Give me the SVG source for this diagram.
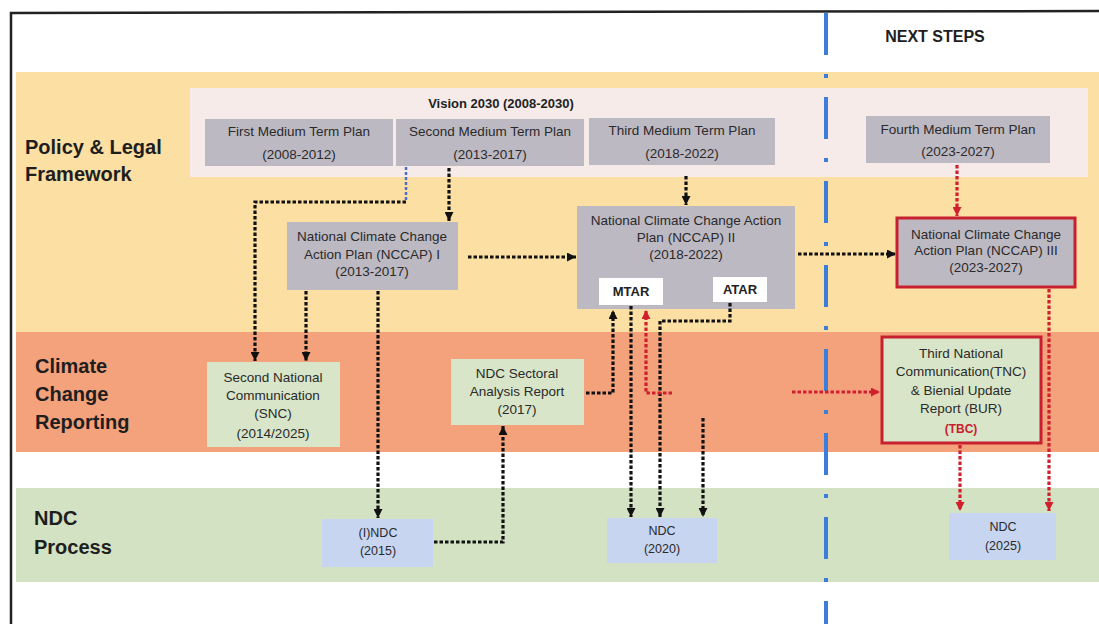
<svg xmlns="http://www.w3.org/2000/svg" width="1099" height="624" viewBox="0 0 1099 624">
<defs>
<style>
.lbl{font-family:"Liberation Sans",Arial,sans-serif;font-weight:bold;font-size:20px;fill:#1e1e1e}
.t{font-family:"Liberation Sans",Arial,sans-serif;font-size:13.5px;fill:#2a2a2a;text-anchor:middle}
.ts{font-family:"Liberation Sans",Arial,sans-serif;font-size:12.5px;fill:#2a2a2a;text-anchor:middle}
.tb{font-family:"Liberation Sans",Arial,sans-serif;font-size:13px;font-weight:bold;fill:#222;text-anchor:middle}
.gray{fill:#bdb9c3}
.green{fill:#d8e5c9}
.blue{fill:#c7d5f1}
.white{fill:#ffffff}
.redb{stroke:#c8202e;stroke-width:3}
.k{fill:none;stroke:#111;stroke-width:3.2;stroke-dasharray:3.5 2}
.r{fill:none;stroke:#d0202e;stroke-width:3.2;stroke-dasharray:3.5 2}
.bl{fill:none;stroke:#4a6fd0;stroke-width:2.5;stroke-dasharray:3 2}
</style>
<marker id="ak" viewBox="0 0 10 10" refX="10" refY="5" markerWidth="9" markerHeight="9" markerUnits="userSpaceOnUse" orient="auto"><path d="M0,0 L10,5 L0,10 z" fill="#111"/></marker>
<marker id="ar" viewBox="0 0 10 10" refX="10" refY="5" markerWidth="9" markerHeight="9" markerUnits="userSpaceOnUse" orient="auto"><path d="M0,0 L10,5 L0,10 z" fill="#d0202e"/></marker>
</defs>
<rect x="0" y="0" width="1099" height="624" fill="#ffffff"/>
<g id="frame">
<line x1="10" y1="13" x2="1099" y2="11" stroke="#222" stroke-width="2.5"/>
<line x1="11" y1="12" x2="11" y2="624" stroke="#222" stroke-width="2.5"/>
</g>
<g id="bands">
<rect x="16" y="72" width="1083" height="260" fill="#fbdfa3"/>
<rect x="16" y="332" width="1083" height="120" fill="#f3a27c"/>
<rect x="16" y="488" width="1083" height="94" fill="#d3e2c3"/>
<rect x="190" y="88" width="898" height="89" fill="#f7ebea"/>
</g>
<g id="labels">
<text class="lbl" x="25" y="154">Policy &amp; Legal</text>
<text class="lbl" x="25" y="181">Framework</text>
<text class="lbl" x="35" y="373">Climate</text>
<text class="lbl" x="35" y="401">Change</text>
<text class="lbl" x="35" y="429">Reporting</text>
<text class="lbl" x="34" y="525">NDC</text>
<text class="lbl" x="34" y="554">Process</text>
<text class="lbl" x="935" y="42" style="font-size:16px;text-anchor:middle">NEXT STEPS</text>
<text class="tb" x="501" y="108">Vision 2030 (2008-2030)</text>
</g>
<g id="divider">
<line x1="826" y1="13" x2="826" y2="624" stroke="#3c7dd9" stroke-width="4" stroke-dasharray="42 19 4 19"/>
</g>
<g id="mtp1"><rect class="gray" x="205" y="119" width="188" height="47"/><text class="t" x="299" y="136">First Medium Term Plan</text><text class="t" x="299" y="159">(2008-2012)</text></g>
<g id="mtp2"><rect class="gray" x="396" y="119" width="188" height="47"/><text class="t" x="490" y="136">Second Medium Term Plan</text><text class="t" x="490" y="159">(2013-2017)</text></g>
<g id="mtp3"><rect class="gray" x="589" y="118" width="186" height="47"/><text class="t" x="682" y="135">Third Medium Term Plan</text><text class="t" x="682" y="158">(2018-2022)</text></g>
<g id="mtp4"><rect class="gray" x="866" y="116" width="184" height="47"/><text class="t" x="958" y="134">Fourth Medium Term Plan</text><text class="t" x="958" y="156">(2023-2027)</text></g>
<g id="nccap1"><rect class="gray" x="287" y="222" width="171" height="68"/><text class="t" x="372" y="241">National Climate Change</text><text class="t" x="372" y="259">Action Plan (NCCAP) I</text><text class="t" x="372" y="276">(2013-2017)</text></g>
<g id="nccap2"><rect class="gray" x="577" y="206" width="218" height="103"/><text class="t" x="686" y="225">National Climate Change Action</text><text class="t" x="686" y="242">Plan (NCCAP) II</text><text class="t" x="686" y="259">(2018-2022)</text></g>
<g id="mtar"><rect class="white" x="599" y="278" width="64" height="27"/><text class="tb" x="631" y="296">MTAR</text></g>
<g id="atar"><rect class="white" x="713" y="277" width="54" height="25"/><text class="tb" x="740" y="294">ATAR</text></g>
<g id="nccap3"><rect class="gray redb" x="897" y="218" width="178" height="69"/><text class="t" x="986" y="239">National Climate Change</text><text class="t" x="986" y="255">Action Plan (NCCAP) III</text><text class="t" x="986" y="272">(2023-2027)</text></g>
<g id="snc"><rect class="green" x="207" y="362" width="133" height="85"/><text class="t" x="273" y="382">Second National</text><text class="t" x="273" y="400">Communication</text><text class="t" x="273" y="418">(SNC)</text><text class="t" x="273" y="438">(2014/2025)</text></g>
<g id="sectoral"><rect class="green" x="451" y="359" width="133" height="66"/><text class="t" x="517" y="378">NDC Sectoral</text><text class="t" x="517" y="396">Analysis Report</text><text class="t" x="517" y="414">(2017)</text></g>
<g id="tnc"><rect class="green redb" x="882" y="337" width="159" height="106"/><text class="t" x="961" y="358">Third National</text><text class="t" x="961" y="376">Communication(TNC)</text><text class="t" x="961" y="395">&amp; Bienial Update</text><text class="t" x="961" y="413">Report (BUR)</text><text class="t" x="961" y="433" style="fill:#c8202e;font-weight:bold;font-size:12px">(TBC)</text></g>
<g id="indc"><rect class="blue" x="322" y="519" width="111" height="48"/><text class="ts" x="378" y="537">(I)NDC</text><text class="ts" x="378" y="555">(2015)</text></g>
<g id="ndc2020"><rect class="blue" x="607" y="518" width="110" height="45"/><text class="ts" x="662" y="535">NDC</text><text class="ts" x="662" y="553">(2020)</text></g>
<g id="ndc2025"><rect class="blue" x="949" y="513" width="107" height="47"/><text class="ts" x="1003" y="531">NDC</text><text class="ts" x="1003" y="550">(2025)</text></g>
<g id="connectors">
<path class="bl" d="M406,167 V201"/>
<path class="k" d="M406,202 H255 V361" marker-end="url(#ak)"/>
<path class="k" d="M449,168 V221" marker-end="url(#ak)"/>
<path class="k" d="M306,291 V361" marker-end="url(#ak)"/>
<path class="k" d="M378,291 V518" marker-end="url(#ak)"/>
<path class="k" d="M468,257 H576" marker-end="url(#ak)"/>
<path class="k" d="M686,176 V205" marker-end="url(#ak)"/>
<path class="k" d="M798,254 H896" marker-end="url(#ak)"/>
<path class="k" d="M586,393 H613 V310" marker-end="url(#ak)"/>
<path class="k" d="M631,306 V517" marker-end="url(#ak)"/>
<path class="k" d="M730,303 V321 H660 V517" marker-end="url(#ak)"/>
<path class="k" d="M703,418 V517" marker-end="url(#ak)"/>
<path class="k" d="M434,542 H503 V426" marker-end="url(#ak)"/>
<path class="r" d="M957,165 V216" marker-end="url(#ar)"/>
<path class="r" d="M1049,289 V511" marker-end="url(#ar)"/>
<path class="r" d="M960,445 V511" marker-end="url(#ar)"/>
<path class="r" d="M792,392 H880" marker-end="url(#ar)"/>
<path class="r" d="M672,393 H646 V310" marker-end="url(#ar)"/>
</g>
</svg>
